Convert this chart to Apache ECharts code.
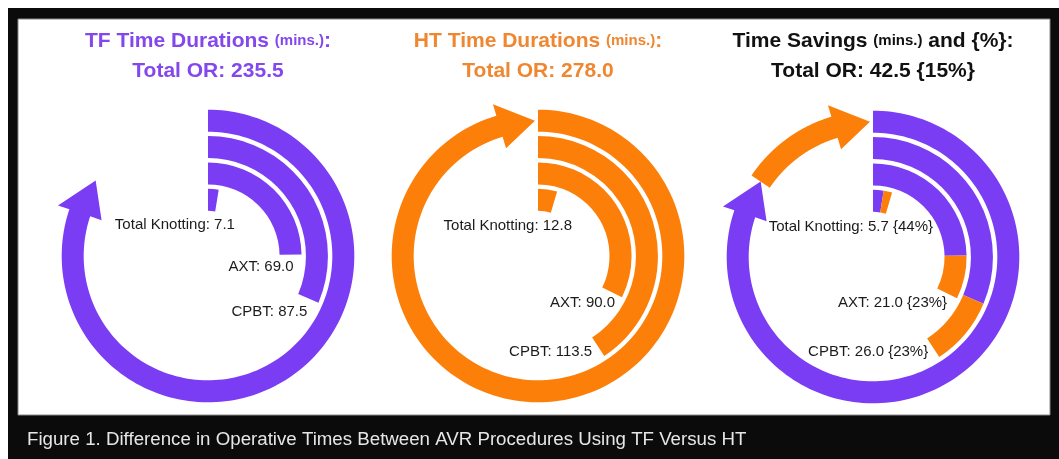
<!DOCTYPE html>
<html><head><meta charset="utf-8">
<script src="https://cdn.jsdelivr.net/npm/echarts@6/dist/echarts.min.js"></script>
<style>html,body{margin:0;padding:0;background:#fff}#c{width:1059px;height:459px}</style>
</head><body><div id="c"></div>
<script>
// ---- data ----
const categories = ['Total Knotting', 'AXT', 'CPBT', 'Total OR'];
const tfValues = [7.1, 69.0, 87.5, 235.5];
const htValues = [12.8, 90.0, 113.5, 278.0];
const savingValues = [5.7, 21.0, 26.0, 42.5];
const savingPercents = [44, 23, 23, 15];
const angleMax = 279;
const captionText = 'Figure 1. Difference in Operative Times Between AVR Procedures Using TF Versus HT';

// ---- styles ----
const PURPLE = '#7A3DF3', ORANGE = '#FC7F0A';
const T_PURPLE = '#8447EC', T_ORANGE = '#EF8630', T_BLACK = '#111111';
const FONT = '"Liberation Sans", Arial, Helvetica, sans-serif';
const centers = [[208, 256], [538, 256], [873, 257]];
const labelOffsets = [
  [[18, 24], [3, 12], [-1, 13]],
  [[18, 24], [3, 10], [-6, 5]],
  [[44, 24], [0, 9], [-5, 4]]
];

const f1 = v => v.toFixed(1);

function arrowRender(color) {
  return function (params, api) {
    const cat = api.value(0), v0 = api.value(1), v1 = api.value(2);
    const cx = params.coordSys.cx, cy = params.coordSys.cy;
    const ps = api.coord([cat, v0]);
    const pe = api.coord([cat, v1]);
    const rc = pe[2];
    const a0 = Math.atan2(ps[1] - cy, ps[0] - cx);
    let span = Math.atan2(pe[1] - cy, pe[0] - cx) - a0;
    while (span <= 0) span += 2 * Math.PI;
    const hw = 11, hh = 23, hl = 36;
    const aT = a0 + span;
    const aB = aT - hl / rc;
    const pts = [];
    const n = 160;
    const P = (r, a) => [cx + r * Math.cos(a), cy + r * Math.sin(a)];
    for (let k = 0; k <= n; k++) pts.push(P(rc + hw, a0 + (aB - a0) * k / n));
    pts.push(P(rc + hh, aB));
    pts.push(P(rc, aT));
    pts.push(P(rc - hh, aB));
    for (let k = n; k >= 0; k--) pts.push(P(rc - hw, a0 + (aB - a0) * k / n));
    return { type: 'polygon', shape: { points: pts }, style: { fill: color } };
  };
}

function labelRender(texts, offsets) {
  return function (params, api) {
    const i = api.value(0);
    const p = api.coord([i, api.value(1)]);
    const o = offsets[i];
    return {
      type: 'text', x: p[0] + o[0], y: p[1] + o[1],
      style: { text: texts[i], align: 'right', verticalAlign: 'middle', fill: '#1b1b1b', font: '15px ' + FONT }
    };
  };
}

const totals3 = categories.map((c, i) => tfValues[i] + savingValues[i]);
const labelTexts = [
  categories.slice(0, 3).map((c, i) => c + ': ' + f1(tfValues[i])),
  categories.slice(0, 3).map((c, i) => c + ': ' + f1(htValues[i])),
  categories.slice(0, 3).map((c, i) => c + ': ' + f1(savingValues[i]) + ' {' + savingPercents[i] + '%}')
];
const labelEnds = [tfValues, htValues, totals3];

const polar = centers.map(c => ({ center: c, radius: [43, 148.5] }));
const angleAxis = centers.map((c, i) => ({ polarIndex: i, type: 'value', min: 0, max: angleMax, startAngle: 90, clockwise: true, show: false }));
const radiusAxis = centers.map((c, i) => ({ polarIndex: i, type: 'category', data: categories, show: false }));

const series = [
  { type: 'bar', coordinateSystem: 'polar', polarIndex: 0, data: tfValues.slice(0, 3), barWidth: 22, itemStyle: { color: PURPLE }, silent: true },
  { type: 'bar', coordinateSystem: 'polar', polarIndex: 1, data: htValues.slice(0, 3), barWidth: 22, itemStyle: { color: ORANGE }, silent: true },
  { type: 'bar', coordinateSystem: 'polar', polarIndex: 2, stack: 's3', data: tfValues.slice(0, 3), barWidth: 22, itemStyle: { color: PURPLE }, silent: true },
  { type: 'bar', coordinateSystem: 'polar', polarIndex: 2, stack: 's3', data: savingValues.slice(0, 3), barWidth: 22, itemStyle: { color: ORANGE }, silent: true },
  { type: 'custom', coordinateSystem: 'polar', polarIndex: 0, data: [[3, 0, tfValues[3]]], renderItem: arrowRender(PURPLE), silent: true },
  { type: 'custom', coordinateSystem: 'polar', polarIndex: 1, data: [[3, 0, htValues[3]]], renderItem: arrowRender(ORANGE), silent: true },
  { type: 'custom', coordinateSystem: 'polar', polarIndex: 2, data: [[3, 0, tfValues[3]]], renderItem: arrowRender(PURPLE), silent: true },
  { type: 'custom', coordinateSystem: 'polar', polarIndex: 2, data: [[3, tfValues[3], tfValues[3] + savingValues[3]]], renderItem: arrowRender(ORANGE), silent: true }
];
for (let c = 0; c < 3; c++) {
  series.push({
    type: 'custom', coordinateSystem: 'polar', polarIndex: c, z: 5, silent: true,
    data: [0, 1, 2].map(i => [i, labelEnds[c][i]]),
    renderItem: labelRender(labelTexts[c], labelOffsets[c])
  });
}

function titleOpt(x, line1, line2, color) {
  const base = { fontSize: 21, fontWeight: 'bold', color: color, fontFamily: FONT, lineHeight: 30 };
  return {
    left: x, top: 26, textAlign: 'center', padding: 0,
    text: line1 + '\n' + line2,
    textStyle: Object.assign({}, base, { rich: { a: base, b: Object.assign({}, base, { fontSize: 15 }) } })
  };
}

const option = {
  animation: false,
  graphic: [
    { type: 'rect', z: -20, silent: true, shape: { x: 8, y: 8, width: 1051, height: 451 }, style: { fill: '#0b0b0b' } },
    { type: 'rect', z: -19, silent: true, shape: { x: 18, y: 19, width: 1032, height: 396 }, style: { fill: '#ffffff', stroke: '#888', lineWidth: 1 } }
  ],
  title: [
    titleOpt(208, '{a|TF Time Durations }{b|(mins.)}{a|:}', '{a|Total OR: ' + f1(tfValues[3]) + '}', T_PURPLE),
    titleOpt(538, '{a|HT Time Durations }{b|(mins.)}{a|:}', '{a|Total OR: ' + f1(htValues[3]) + '}', T_ORANGE),
    titleOpt(873, '{a|Time Savings }{b|(mins.)}{a| and }{%}:', '{a|Total OR: ' + f1(savingValues[3]) + ' }{' + savingPercents[3] + '%}', T_BLACK),
    { left: 27, top: 430, padding: 0, text: captionText, textStyle: { color: '#e6e6e6', fontSize: 18.7, fontWeight: 'normal', fontFamily: FONT } }
  ],
  polar: polar,
  angleAxis: angleAxis,
  radiusAxis: radiusAxis,
  series: series
};

const chart = echarts.init(document.getElementById('c'), null, { renderer: 'canvas' });
chart.setOption(option);
</script>
</body></html>
